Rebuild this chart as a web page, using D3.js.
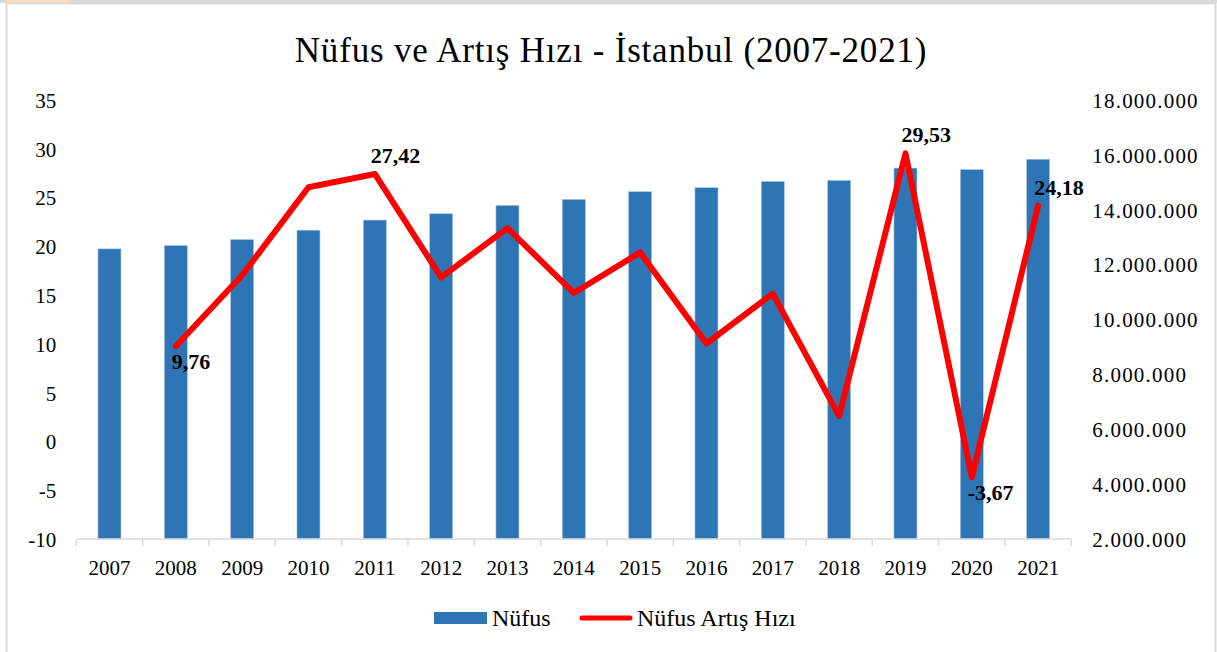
<!DOCTYPE html>
<html lang="tr">
  <head>
    <meta charset="utf-8" />
    <title>Nüfus ve Artış Hızı - İstanbul</title>
    <script src="https://d3js.org/d3.v7.min.js"></script>
    <style>
      body { margin: 0; background: #fff; }
      svg text { font-family: "Liberation Serif", "Times New Roman", serif; fill: #000; }
      .axis path, .axis line { stroke: #d9d9d9; }
      .label { font-weight: bold; font-size: 22px; }
    </style>
  </head>
  <body>
    <script>
      let years = ["2007", "2008", "2009", "2010", "2011", "2012", "2013", "2014",
                   "2015", "2016", "2017", "2018", "2019", "2020", "2021"];
      let nufus = [12573836, 12697164, 12915158, 13255685, 13624240, 13854740, 14160467,
                   14377018, 14657434, 14804116, 15029231, 15067724, 15519267, 15462452, 15840900];
      // growth rate (per thousand), no value for 2007
      let artis = [null, 9.76, 17.03, 26.06, 27.42, 16.82, 21.87, 15.22,
                   19.38, 10.04, 15.15, 2.61, 29.53, -3.67, 24.18];
      let leftTicks = [-10, -5, 0, 5, 10, 15, 20, 25, 30, 35];
      let rightTicks = [2e6, 4e6, 6e6, 8e6, 10e6, 12e6, 14e6, 16e6, 18e6];
      // which points get a label, and where
      let labelled = { "2008": "below", "2011": "above", "2019": "above", "2020": "below", "2021": "above" };

      let w = 1217, h = 652;
      let plotLeft = 76.3, plotRight = 1071.3, plotTop = 100, plotBottom = 539;

      let svg = d3.select("body").append("svg").attr("width", w).attr("height", h);

      // screenshot frame
      svg.append("rect").attr("x", 0).attr("y", 0).attr("width", w).attr("height", 3).attr("fill", "#d7dbd9");
      svg.append("rect").attr("x", 6).attr("y", 0).attr("width", 65).attr("height", 3).attr("fill", "#fcdcbc");
      svg.append("rect").attr("x", 6.5).attr("y", 3.5).attr("width", 1209).attr("height", 660)
        .attr("fill", "#fff").attr("stroke", "#d9d9d9").attr("stroke-width", 2);

      svg.append("text").attr("x", 611).attr("y", 62).attr("text-anchor", "middle")
        .style("font-size", "35px").style("letter-spacing", "0.8px")
        .text("Nüfus ve Artış Hızı - İstanbul (2007-2021)");

      let x = d3.scaleBand().domain(years).range([plotLeft, plotRight]).paddingInner(0.653).paddingOuter(0.3265);
      let yL = d3.scaleLinear().domain([-10, 35]).range([plotBottom, plotTop]);
      let yR = d3.scaleLinear().domain([2e6, 18e6]).range([plotBottom, plotTop]);

      let trLocale = d3.formatLocale({ decimal: ",", thousands: ".", grouping: [3], currency: ["", ""], minus: "-" });
      let fmtR = trLocale.format(",");
      let fmtL = trLocale.format(",.2f");
      let fmtTick = trLocale.format("d");

      // left axis (labels only)
      svg.append("g").attr("transform", `translate(${plotLeft - 20},0)`)
        .call(d3.axisLeft(yL).tickValues(leftTicks).tickFormat(fmtTick).tickSize(0).tickPadding(0))
        .call((g) => g.select(".domain").remove())
        .selectAll("text").style("font-size", "21px").attr("dy", "0.35em");

      // right axis (labels only)
      svg.append("g").attr("transform", `translate(${plotRight + 21},0)`)
        .call(d3.axisRight(yR).tickValues(rightTicks).tickFormat(fmtR).tickSize(0).tickPadding(0))
        .call((g) => g.select(".domain").remove())
        .selectAll("text").style("font-size", "21px").style("letter-spacing", "1.2px").attr("dy", "0.35em");

      // bars
      svg.selectAll("rect.bar").data(years).join("rect").attr("class", "bar")
        .attr("x", (d) => x(d)).attr("width", x.bandwidth())
        .attr("y", (d, i) => yR(nufus[i])).attr("height", (d, i) => plotBottom - yR(nufus[i]))
        .attr("fill", "#2e75b6").attr("stroke", "#a9c6e6").attr("stroke-width", 0.6);

      // x axis with category boundary ticks
      let xg = svg.append("g").attr("class", "axis");
      xg.append("line").attr("x1", plotLeft).attr("x2", plotRight).attr("y1", plotBottom).attr("y2", plotBottom)
        .attr("stroke-width", 1.5);
      let bounds = years.map((d) => x(d) - x.step() * x.paddingInner() / 2)
        .concat([x(years[years.length - 1]) + x.bandwidth() + x.step() * x.paddingInner() / 2]);
      xg.selectAll("line.tk").data(bounds).join("line").attr("class", "tk")
        .attr("x1", (d) => d).attr("x2", (d) => d).attr("y1", plotBottom).attr("y2", plotBottom + 7)
        .attr("stroke-width", 1.5);
      xg.selectAll("text").data(years).join("text")
        .attr("x", (d) => x(d) + x.bandwidth() / 2).attr("y", plotBottom + 36)
        .attr("text-anchor", "middle").style("font-size", "21px").text((d) => d);

      // growth line
      let pts = years.map((d, i) => ({ year: d, v: artis[i] })).filter((d) => d.v !== null);
      let line = d3.line().x((d) => x(d.year) + x.bandwidth() / 2).y((d) => yL(d.v));
      svg.append("path").attr("d", line(pts)).attr("fill", "none")
        .attr("stroke", "#ff0000").attr("stroke-width", 6)
        .attr("stroke-linejoin", "round").attr("stroke-linecap", "round");

      // data labels
      svg.selectAll("text.label").data(pts.filter((d) => labelled[d.year])).join("text")
        .attr("class", "label")
        .attr("x", (d) => x(d.year) + x.bandwidth() / 2 - 4)
        .attr("y", (d) => yL(d.v) + (labelled[d.year] === "above" ? -11 : 23))
        .text((d) => fmtL(d.v));

      // legend
      let lg = svg.append("g");
      lg.append("rect").attr("x", 434).attr("y", 612).attr("width", 53).attr("height", 12).attr("fill", "#2e75b6");
      lg.append("text").attr("x", 492).attr("y", 626).style("font-size", "24px").text("Nüfus");
      lg.append("line").attr("x1", 582).attr("x2", 630).attr("y1", 618).attr("y2", 618)
        .attr("stroke", "#ff0000").attr("stroke-width", 5).attr("stroke-linecap", "round");
      lg.append("text").attr("x", 637).attr("y", 626).style("font-size", "24px").text("Nüfus Artış Hızı");
    </script>
  </body>
</html>
